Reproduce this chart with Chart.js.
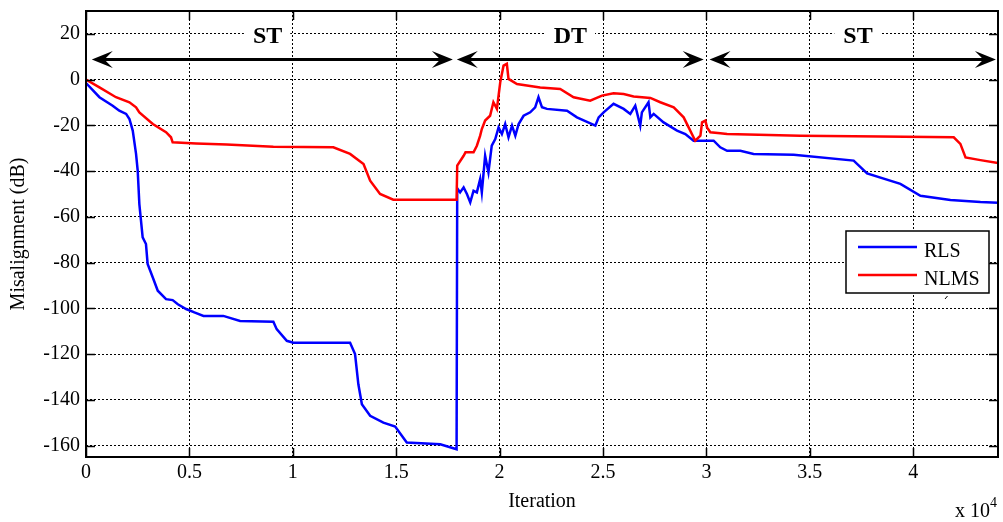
<!DOCTYPE html>
<html lang="en">
<head>
  <meta charset="UTF-8" />
  <title>Misalignment RLS / NLMS</title>
  <script src="https://cdn.jsdelivr.net/npm/chart.js"></script>
  <style>
    body { margin: 0; background: #fff; }
    canvas { display: block; }
  </style>
</head>
<body>
<canvas id="misChart" width="1003" height="522"></canvas>
<script>
// iteration axis is in units of 10^4
const xTicks = [0, 0.5, 1, 1.5, 2, 2.5, 3, 3.5, 4];
const yTicks = [-160, -140, -120, -100, -80, -60, -40, -20, 0, 20];

const rlsIter = [0, 0.065, 0.129, 0.161, 0.194, 0.21, 0.226, 0.242, 0.25, 0.258, 0.274, 0.29, 0.298, 0.323, 0.347,
  0.387, 0.419, 0.444, 0.484, 0.524, 0.568, 0.664, 0.745, 0.906, 0.922, 0.971, 1.003, 1.277, 1.301, 1.317, 1.334,
  1.374, 1.438, 1.495, 1.551, 1.713, 1.792, 1.795, 1.809, 1.826, 1.842, 1.858, 1.874, 1.89, 1.906, 1.914, 1.93,
  1.946, 1.962, 1.979, 1.995, 2.011, 2.027, 2.043, 2.06, 2.076, 2.092, 2.116, 2.148, 2.172, 2.188, 2.205, 2.229,
  2.326, 2.374, 2.463, 2.479, 2.503, 2.551, 2.6, 2.632, 2.656, 2.68, 2.688, 2.72, 2.729, 2.745, 2.793, 2.858,
  2.898, 2.938, 3.035, 3.067, 3.1, 3.164, 3.228, 3.422, 3.712, 3.777, 3.938, 4.035, 4.18, 4.325, 4.41];
const rlsDb = [-1.5, -7.7, -11.4, -13.6, -15, -17.2, -22.3, -32.5, -39.8, -54.4, -69, -71.9, -80.6, -86.5, -92.3,
  -96, -96.4, -98.2, -100.3, -101.8, -103.3, -103.3, -105.5, -105.9, -109.1, -114.2, -115, -115, -120, -133.2, -141.9,
  -147, -150, -151.7, -158.7, -159.4, -161.6, -47.5, -49.3, -47.1, -50, -53.7, -48.6, -49.3, -43.5, -49.3, -33.3,
  -40.6, -28.9, -26, -20.9, -23.8, -19.4, -25.2, -20.1, -24.5, -19.4, -15.8, -14.3, -12.1, -7.7, -12.1, -12.8,
  -13.6, -16.5, -20.1, -16.5, -14.3, -10.6, -12.8, -15, -11.4, -20.1, -14.3, -9.9, -16.5, -15, -18.7, -22.3,
  -23.8, -26.7, -26.7, -29.6, -31.1, -31.1, -32.5, -32.8, -35.4, -41, -45.6, -50.8, -52.6, -53.5, -53.8];

const nlmsIter = [0, 0.065, 0.145, 0.21, 0.242, 0.258, 0.323, 0.387, 0.411, 0.419, 0.532, 0.68, 0.906, 1.196,
  1.277, 1.342, 1.374, 1.422, 1.486, 1.792, 1.795, 1.826, 1.835, 1.874, 1.89, 1.906, 1.914, 1.93, 1.954, 1.97,
  1.987, 1.995, 2.003, 2.019, 2.035, 2.043, 2.084, 2.196, 2.293, 2.358, 2.438, 2.495, 2.551, 2.6, 2.648, 2.729,
  2.777, 2.842, 2.89, 2.914, 2.946, 2.971, 2.979, 2.995, 3.003, 3.019, 3.067, 3.1, 3.454, 3.841, 4.196, 4.228,
  4.253, 4.325, 4.41];
const nlmsDb = [0, -3.4, -7.7, -9.9, -12.1, -14.3, -19.4, -23, -25.2, -27.4, -27.9, -28.4, -29.3, -29.6,
  -32.5, -36.9, -44.2, -50, -52.5, -52.5, -37.6, -33.3, -31.8, -31.8, -28.9, -24.5, -21.6, -17.9, -15.8, -9.9,
  -12.8, -7, -1.2, 6.1, 6.9, 0.3, -1.9, -3.4, -4.1, -7.7, -9.2, -7, -6, -6.3, -7.4, -8,
  -9.9, -12.1, -16.5, -20.9, -26.7, -24.5, -18.7, -17.9, -20.9, -23, -23.5, -23.8, -24.5, -24.9, -25.2, -28.1,
  -34, -35.2, -36.5];

// talk periods: single talk / double talk
const periodLabels = ['ST', 'DT', 'ST'];
const periodStart = [0.028, 1.793, 3.015];
const periodEnd = [1.774, 2.987, 4.4];
const labelPos = [0.878, 2.342, 3.733];

const seriesNames = ['RLS', 'NLMS'];
const seriesColors = ['#0000ff', '#ff0000'];

const FONT = "'Liberation Serif', 'Times New Roman', serif";
Chart.defaults.font.family = FONT;
Chart.defaults.font.size = 20;
Chart.defaults.color = '#000';

function arrowHead(ctx, tx, ty, dir) {
  const L = 21, W = 8.5;
  ctx.beginPath();
  ctx.moveTo(tx, ty);
  ctx.lineTo(tx - dir * L, ty - W);
  ctx.lineTo(tx - dir * L * 0.6, ty);
  ctx.lineTo(tx - dir * L, ty + W);
  ctx.closePath();
  ctx.fill();
}

const decor = {
  id: 'decor',
  afterDatasetsDraw(chart) {
    const { ctx, chartArea: a, scales: { x, y } } = chart;
    ctx.save();

    // frame + inward ticks
    ctx.strokeStyle = '#000';
    ctx.lineWidth = 2;
    ctx.strokeRect(a.left, a.top, a.right - a.left, a.bottom - a.top);
    ctx.lineWidth = 1.5;
    ctx.beginPath();
    xTicks.forEach(v => {
      const px = Math.round(x.getPixelForValue(v)) + 0.5;
      ctx.moveTo(px, a.bottom); ctx.lineTo(px, a.bottom - 9);
      ctx.moveTo(px, a.top); ctx.lineTo(px, a.top + 9);
    });
    yTicks.forEach(v => {
      const py = Math.round(y.getPixelForValue(v)) + 0.5;
      ctx.moveTo(a.left, py); ctx.lineTo(a.left + 9, py);
      ctx.moveTo(a.right, py); ctx.lineTo(a.right - 9, py);
    });
    ctx.stroke();

    // period arrows
    const ay = y.getPixelForValue(8.75);
    ctx.fillStyle = '#000';
    ctx.lineWidth = 3;
    periodStart.forEach((s, i) => {
      const x0 = x.getPixelForValue(s), x1 = x.getPixelForValue(periodEnd[i]);
      ctx.beginPath();
      ctx.moveTo(x0 + 8, ay); ctx.lineTo(x1 - 8, ay);
      ctx.stroke();
      arrowHead(ctx, x0, ay, -1);
      arrowHead(ctx, x1, ay, 1);
    });

    // period labels with white backing
    ctx.font = 'bold 24px ' + FONT;
    ctx.textAlign = 'center';
    ctx.textBaseline = 'alphabetic';
    const by = y.getPixelForValue(15.8);
    periodLabels.forEach((t, i) => {
      const cx = x.getPixelForValue(labelPos[i]);
      const w = ctx.measureText(t).width;
      ctx.fillStyle = '#fff';
      ctx.fillRect(cx - w / 2 - 9, by - 19, w + 17, 22);
      ctx.fillStyle = '#000';
      ctx.fillText(t, cx, by);
    });

    // legend
    const lx = 846, ly = 231, lw = 143, lh = 62;
    ctx.fillStyle = '#fff';
    ctx.fillRect(lx, ly, lw, lh);
    ctx.strokeStyle = '#000';
    ctx.lineWidth = 1.5;
    ctx.strokeRect(lx, ly, lw, lh);
    ctx.font = '20px ' + FONT;
    ctx.textAlign = 'left';
    seriesNames.forEach((n, i) => {
      const yy = 247 + i * 28;
      ctx.strokeStyle = seriesColors[i];
      ctx.lineWidth = 2.5;
      ctx.beginPath();
      ctx.moveTo(858, yy); ctx.lineTo(917, yy);
      ctx.stroke();
      ctx.fillStyle = '#000';
      ctx.fillText(n, 924, yy + 9.5);
    });
    // stray mark under legend
    ctx.strokeStyle = '#000';
    ctx.lineWidth = 1;
    ctx.beginPath();
    ctx.moveTo(945, 299); ctx.lineTo(947.5, 296);
    ctx.stroke();

    // exponent label
    ctx.fillStyle = '#000';
    ctx.font = '20px ' + FONT;
    ctx.fillText('x 10', 955, 517);
    ctx.font = '14px ' + FONT;
    ctx.fillText('4', 990, 507);

    ctx.restore();
  }
};

const toPts = (xs, ys) => xs.map((v, i) => ({ x: v, y: ys[i] }));

new Chart(document.getElementById('misChart').getContext('2d'), {
  type: 'scatter',
  data: {
    datasets: [
      { label: seriesNames[0], data: toPts(rlsIter, rlsDb), borderColor: seriesColors[0], order: 1 },
      { label: seriesNames[1], data: toPts(nlmsIter, nlmsDb), borderColor: seriesColors[1], order: 0 }
    ]
  },
  options: {
    responsive: false,
    devicePixelRatio: 1,
    animation: false,
    showLine: true,
    elements: {
      point: { radius: 0, hoverRadius: 0 },
      line: { borderWidth: 2.5, tension: 0 }
    },
    layout: { padding: { left: 0, right: 5, top: 11, bottom: 0 } },
    plugins: { legend: { display: false }, tooltip: { enabled: false } },
    scales: {
      x: {
        type: 'linear', min: 0, max: 4.41,
        afterBuildTicks: s => { s.ticks = xTicks.map(v => ({ value: v })); },
        afterFit: s => { s.height = 65; s.paddingLeft = 0; s.paddingRight = 0; },
        ticks: { padding: 4, maxRotation: 0, autoSkip: false, callback: v => String(v), font: { size: 20 } },
        grid: { color: '#000', lineWidth: 1, drawTicks: false },
        border: { display: false, dash: [2, 2] },
        title: { display: true, text: 'Iteration', font: { size: 20 }, padding: { top: 0, bottom: 8 } }
      },
      y: {
        type: 'linear', min: -165, max: 30,
        afterBuildTicks: s => { s.ticks = yTicks.map(v => ({ value: v })); },
        afterFit: s => { s.width = 86; s.paddingTop = 0; s.paddingBottom = 0; },
        ticks: { padding: 6, autoSkip: false, callback: v => String(v), font: { size: 20 } },
        grid: { color: '#000', lineWidth: 1, drawTicks: false },
        border: { display: false, dash: [2, 2] },
        title: { display: true, text: 'Misalignment (dB)', font: { size: 20 }, padding: { top: 7, bottom: 0 } }
      }
    }
  },
  plugins: [decor]
});
</script>
</body>
</html>
